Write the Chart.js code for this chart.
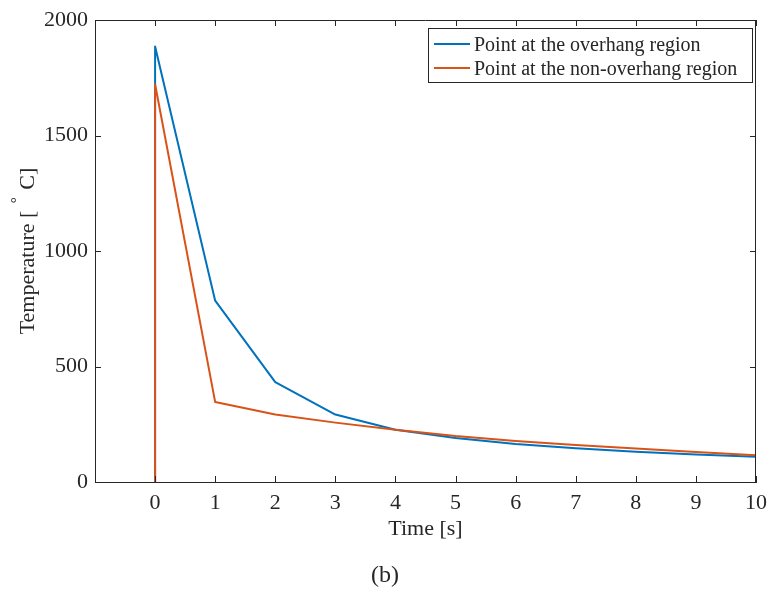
<!DOCTYPE html>
<html>
<head>
<meta charset="utf-8">
<script src="https://cdn.jsdelivr.net/npm/chart.js@4.4.1/dist/chart.umd.min.js"></script>
<style>
  body { margin: 0; background: #fff; }
  #wrap { width: 770px; height: 592px; }
</style>
</head>
<body>
<div id="wrap"><canvas id="tempChart" width="770" height="592"></canvas></div>
<script>
'use strict';

var timeSteps = [0, 0, 1, 2, 3, 4, 5, 6, 7, 8, 9, 10];
var overhang = [0, 1885, 785, 432, 292, 226, 190, 164, 146, 131, 119, 109];
var nonOverhang = [0, 1722, 346, 292, 257, 226, 199, 178, 160, 145, 130, 116];
var xTicks = [0, 1, 2, 3, 4, 5, 6, 7, 8, 9, 10];
var yTicks = [0, 500, 1000, 1500, 2000];

var serif = '"Liberation Serif", "Times New Roman", serif';
var axisColor = '#262626';

function toPoints(xs, ys) {
    return xs.map(function (x, i) { return { x: x, y: ys[i] }; });
}

// matlab style box, inward ticks, legend and labels
var matlabLook = {
    id: 'matlabLook',
    afterDraw: function (chart) {
        var ctx = chart.ctx;
        var a = chart.chartArea;
        var xs = chart.scales.x, ys = chart.scales.y;
        ctx.save();
        ctx.strokeStyle = axisColor;
        ctx.lineWidth = 1;
        ctx.beginPath();
        ctx.moveTo(a.left + 0.5, a.top + 0.5);
        ctx.lineTo(a.right - 0.5, a.top + 0.5);
        ctx.lineTo(a.right - 0.5, a.bottom);
        ctx.stroke();
        ctx.beginPath();
        xTicks.forEach(function (v) {
            var px = Math.round(xs.getPixelForValue(v)) + 0.5;
            ctx.moveTo(px, a.bottom); ctx.lineTo(px, a.bottom - 6);
            ctx.moveTo(px, a.top); ctx.lineTo(px, a.top + 6);
        });
        yTicks.forEach(function (v) {
            var py = Math.round(ys.getPixelForValue(v)) + 0.5;
            ctx.moveTo(a.left, py); ctx.lineTo(a.left + 6, py);
            ctx.moveTo(a.right, py); ctx.lineTo(a.right - 6, py);
        });
        ctx.stroke();

        // legend
        var lx = 428, ly = 28, lw = 324, lh = 54;
        ctx.fillStyle = '#fff';
        ctx.fillRect(lx, ly, lw, lh);
        ctx.strokeStyle = axisColor;
        ctx.strokeRect(lx + 0.5, ly + 0.5, lw, lh);
        ctx.font = '20px ' + serif;
        ctx.textBaseline = 'middle';
        chart.data.datasets.forEach(function (ds, i) {
            var y = ly + 16 + i * 24;
            ctx.strokeStyle = ds.borderColor;
            ctx.lineWidth = 2;
            ctx.beginPath();
            ctx.moveTo(lx + 6, y); ctx.lineTo(lx + 42, y);
            ctx.stroke();
            ctx.fillStyle = axisColor;
            ctx.fillText(ds.label, lx + 46, y + 2);
        });

        // axis titles
        ctx.fillStyle = axisColor;
        ctx.textAlign = 'center';
        ctx.font = '22px ' + serif;
        ctx.fillText('Time [s]', (a.left + a.right) / 2, 529);
        ctx.font = '24px ' + serif;
        ctx.fillText('(b)', 385, 576);

        ctx.translate(28, (a.top + a.bottom) / 2);
        ctx.rotate(-Math.PI / 2);
        ctx.font = '22px ' + serif;
        var p1 = 'Temperature [ ', p2 = '\u00b0', p3 = ' C]';
        var w1 = ctx.measureText(p1).width;
        var w3 = ctx.measureText(p3).width;
        ctx.font = '15px ' + serif;
        var w2 = ctx.measureText(p2).width + 4;
        var start = -(w1 + w2 + w3) / 2;
        ctx.textAlign = 'left';
        ctx.font = '22px ' + serif;
        ctx.fillText(p1, start, 0);
        ctx.fillText(p3, start + w1 + w2, 0);
        ctx.font = '15px ' + serif;
        ctx.fillText(p2, start + w1 + 2, -11);
        ctx.restore();
    }
};

var ctx = document.getElementById('tempChart').getContext('2d');
var chart = new Chart(ctx, {
    type: 'line',
    data: {
        datasets: [{
            label: 'Point at the overhang region',
            data: toPoints(timeSteps, overhang),
            borderColor: '#0072BD',
            borderWidth: 2,
            borderJoinStyle: 'round',
            pointRadius: 0,
            tension: 0,
            order: 2
        }, {
            label: 'Point at the non-overhang region',
            data: toPoints(timeSteps, nonOverhang),
            borderColor: '#D95319',
            borderWidth: 2,
            borderJoinStyle: 'round',
            pointRadius: 0,
            tension: 0,
            order: 1
        }]
    },
    options: {
        responsive: false,
        animation: false,
        layout: { padding: { top: 20, right: 14, left: 0, bottom: 0 } },
        plugins: {
            legend: { display: false },
            tooltip: { enabled: false }
        },
        scales: {
            x: {
                type: 'linear',
                min: -1,
                max: 10,
                afterBuildTicks: function (scale) {
                    scale.ticks = xTicks.map(function (v) { return { value: v }; });
                },
                afterFit: function (scale) {
                    scale.height = 110;
                    scale.paddingLeft = 0;
                    scale.paddingRight = 0;
                },
                grid: { display: false, drawTicks: false },
                border: { display: true, color: axisColor, width: 1 },
                ticks: {
                    color: axisColor,
                    padding: 8,
                    maxRotation: 0,
                    font: { family: serif, size: 22 },
                    callback: function (v) { return String(v); }
                }
            },
            y: {
                type: 'linear',
                min: 0,
                max: 2000,
                afterBuildTicks: function (scale) {
                    scale.ticks = yTicks.map(function (v) { return { value: v }; });
                },
                afterFit: function (scale) {
                    scale.width = 95;
                    scale.paddingTop = 0;
                    scale.paddingBottom = 0;
                },
                grid: { display: false, drawTicks: false },
                border: { display: true, color: axisColor, width: 1 },
                ticks: {
                    color: axisColor,
                    padding: 7,
                    font: { family: serif, size: 22 },
                    callback: function (v) { return String(v); }
                }
            }
        }
    },
    plugins: [matlabLook]
});
</script>
</body>
</html>
